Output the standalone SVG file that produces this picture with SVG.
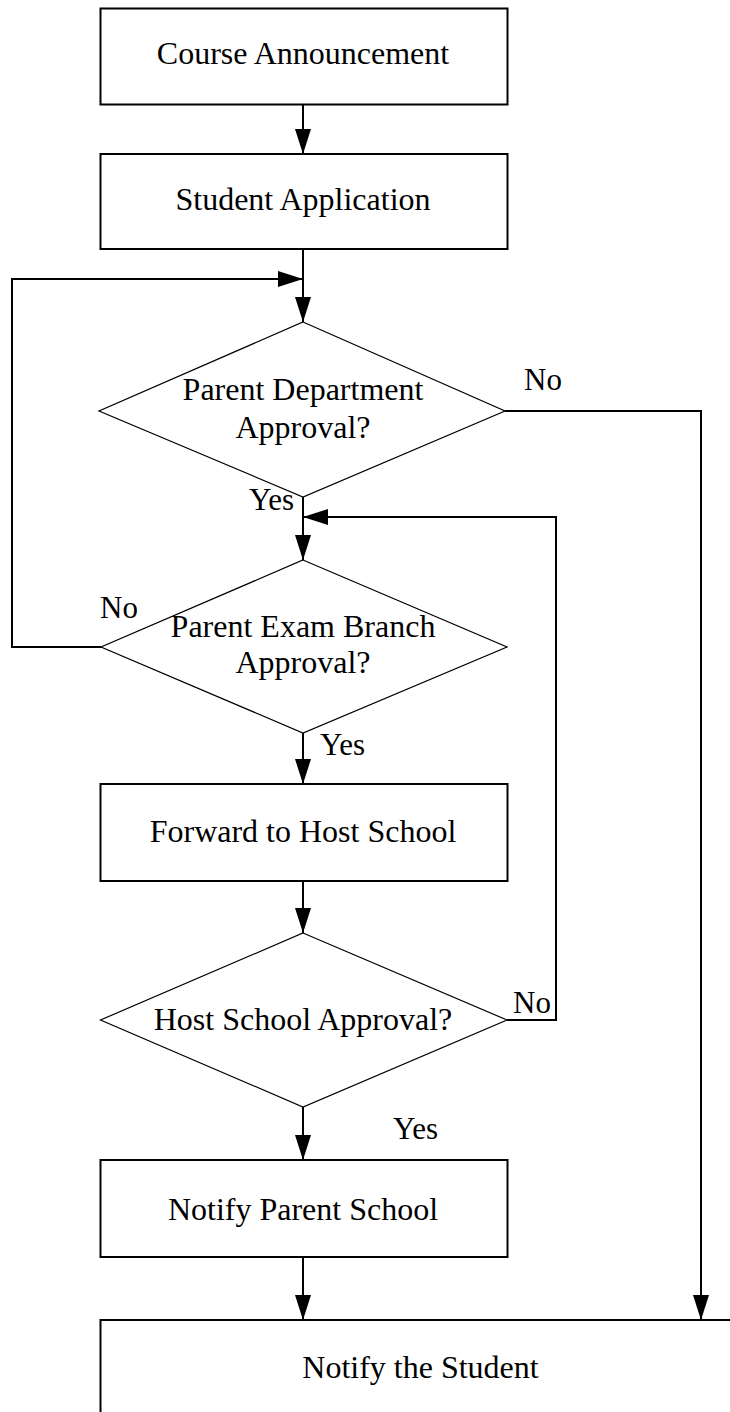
<svg xmlns="http://www.w3.org/2000/svg" width="730" height="1412" viewBox="0 0 730 1412">
<style>
.box{fill:#fff;stroke:#000;stroke-width:2}
.dia{fill:#fff;stroke:#000;stroke-width:1.2}
.t{font-family:"Liberation Serif","Times New Roman",serif;font-size:32px;fill:#000;text-anchor:middle}
.l{font-family:"Liberation Serif","Times New Roman",serif;font-size:31px;fill:#000}
.c{fill:none;stroke:#000;stroke-width:2;marker-end:url(#ah)}
.cn{fill:none;stroke:#000;stroke-width:2}
</style>
<defs>
<marker id="ah" markerUnits="userSpaceOnUse" markerWidth="25" markerHeight="16" refX="25" refY="8" orient="auto">
<path d="M0,0 L25,8 L0,16 z" fill="#000"/>
</marker>
</defs>
<rect width="730" height="1412" fill="#fff"/>
<g id="connectors">
<path class="c" d="M303,104 V154"/>
<path class="c" d="M303,249 V322"/>
<path class="c" d="M101,647 H12 V279 H303"/>
<path class="c" d="M505,411 H701 V1320"/>
<path class="c" d="M303,497 V560"/>
<path class="c" d="M507,1020 H556 V517 H303"/>
<path class="c" d="M303,733 V784"/>
<path class="c" d="M303,881 V933"/>
<path class="c" d="M303,1107 V1160"/>
<path class="c" d="M303,1257 V1320"/>
</g>
<g id="n1"><rect class="box" x="100.5" y="8.5" width="407" height="96"/><text class="t" x="303" y="64">Course Announcement</text></g>
<g id="n2"><rect class="box" x="100.5" y="154" width="407" height="95"/><text class="t" x="303" y="210">Student Application</text></g>
<g id="d1"><polygon class="dia" points="303,322 505,411 303,497 99,411"/><text class="t" x="303" y="400">Parent Department</text><text class="t" x="303" y="438">Approval?</text></g>
<g id="d2"><polygon class="dia" points="303,560 507,647 303,733 101,647"/><text class="t" x="303" y="637">Parent Exam Branch</text><text class="t" x="303" y="673">Approval?</text></g>
<g id="n3"><rect class="box" x="100.5" y="784" width="407" height="97"/><text class="t" x="303" y="842">Forward to Host School</text></g>
<g id="d3"><polygon class="dia" points="303,933 507,1020 303,1107 100.5,1020"/><text class="t" x="303" y="1030">Host School Approval?</text></g>
<g id="n4"><rect class="box" x="100.5" y="1160" width="407" height="97"/><text class="t" x="303" y="1220">Notify Parent School</text></g>
<g id="n5"><rect class="box" x="100.5" y="1320" width="700" height="200"/><text class="t" x="420.5" y="1378">Notify the Student</text></g>
<g id="labels">
<text class="l" x="524" y="390">No</text>
<text class="l" x="249" y="510">Yes</text>
<text class="l" x="100" y="618">No</text>
<text class="l" x="320" y="755">Yes</text>
<text class="l" x="513" y="1013">No</text>
<text class="l" x="393" y="1139">Yes</text>
</g>
</svg>
